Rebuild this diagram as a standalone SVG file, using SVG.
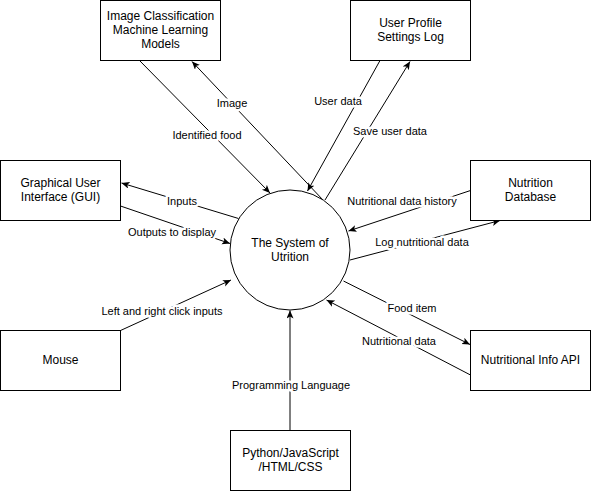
<svg xmlns="http://www.w3.org/2000/svg" width="591" height="491" viewBox="0 0 591 491">
<defs>
<marker id="arr" markerUnits="userSpaceOnUse" markerWidth="10" markerHeight="8" refX="8" refY="3.5" orient="auto">
<path d="M0,0 L8,3.5 L0,7 L2,3.5 z" fill="#000"/>
</marker>
<style>
.box{fill:#fff;stroke:#000;stroke-width:1}
.t{font-family:"Liberation Sans",Arial,sans-serif;font-size:12px;fill:#000;text-anchor:middle}
.lb{font-family:"Liberation Sans",Arial,sans-serif;font-size:11px;fill:#000;text-anchor:middle;stroke:#fff;stroke-width:5;stroke-linejoin:round;paint-order:stroke}
.e{fill:none;stroke:#000;stroke-width:1;marker-end:url(#arr)}
</style>
</defs>
<rect width="591" height="491" fill="#fff"/>
<g id="connectors">
<line class="e" x1="139.5" y1="60.5" x2="270" y2="193"/>
<line class="e" x1="323" y1="200" x2="192" y2="61.5"/>
<line class="e" x1="380" y1="60.5" x2="307.5" y2="191"/>
<line class="e" x1="325" y1="200" x2="410" y2="61.5"/>
<line class="e" x1="238.5" y1="218.5" x2="121.5" y2="183"/>
<line class="e" x1="120.5" y1="206" x2="230" y2="243.5"/>
<line class="e" x1="120.5" y1="330.5" x2="231" y2="280"/>
<line class="e" x1="290" y1="430.5" x2="290" y2="310.5"/>
<line class="e" x1="470.5" y1="190.5" x2="348.5" y2="231"/>
<line class="e" x1="350" y1="260" x2="500" y2="220.5"/>
<line class="e" x1="343.5" y1="281" x2="470" y2="344.5"/>
<line class="e" x1="470.5" y1="375" x2="326.5" y2="300"/>
<text class="lb" x="207" y="139">Identified food</text>
<text class="lb" x="232" y="107">Image</text>
<text class="lb" x="338" y="105">User data</text>
<text class="lb" x="390" y="135">Save user data</text>
<text class="lb" x="182" y="204.5">Inputs</text>
<text class="lb" x="172" y="235.5">Outputs to display</text>
<text class="lb" x="162" y="314.5">Left and right click inputs</text>
<text class="lb" x="291" y="389">Programming Language</text>
<text class="lb" x="402" y="204.5">Nutritional data history</text>
<text class="lb" x="422" y="245.5">Log nutritional data</text>
<text class="lb" x="412" y="311.5">Food item</text>
<text class="lb" x="399" y="344.5">Nutritional data</text>
</g>
<g id="system">
<circle cx="290" cy="250" r="60" class="box"/>
<text class="t" x="290" y="247">The System of</text>
<text class="t" x="290" y="261">Utrition</text>
</g>
<g id="image-classification">
<rect class="box" x="100.5" y="0.5" width="120" height="60"/>
<text class="t" x="160.5" y="20">Image Classification</text>
<text class="t" x="160.5" y="34">Machine Learning</text>
<text class="t" x="160.5" y="48">Models</text>
</g>
<g id="user-profile">
<rect class="box" x="350.5" y="0.5" width="120" height="60"/>
<text class="t" x="410.5" y="27">User Profile</text>
<text class="t" x="410.5" y="41">Settings Log</text>
</g>
<g id="gui">
<rect class="box" x="0.5" y="160.5" width="120" height="60"/>
<text class="t" x="60.5" y="187">Graphical User</text>
<text class="t" x="60.5" y="201">Interface (GUI)</text>
</g>
<g id="mouse">
<rect class="box" x="0.5" y="330.5" width="120" height="60"/>
<text class="t" x="60.5" y="364">Mouse</text>
</g>
<g id="nutrition-database">
<rect class="box" x="470.5" y="160.5" width="120" height="60"/>
<text class="t" x="530.5" y="187">Nutrition</text>
<text class="t" x="530.5" y="201">Database</text>
</g>
<g id="nutritional-info-api">
<rect class="box" x="470.5" y="330.5" width="120" height="60"/>
<text class="t" x="530.5" y="364">Nutritional Info API</text>
</g>
<g id="languages">
<rect class="box" x="230.5" y="430.5" width="120" height="60"/>
<text class="t" x="290.5" y="457">Python/JavaScript</text>
<text class="t" x="290.5" y="471">/HTML/CSS</text>
</g>
</svg>
